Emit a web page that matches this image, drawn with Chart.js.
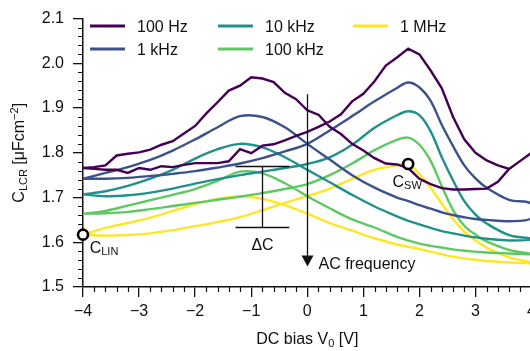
<!DOCTYPE html>
<html>
<head>
<meta charset="utf-8">
<script src="https://cdn.jsdelivr.net/npm/chart.js@4.4.0/dist/chart.umd.min.js"></script>
<style>
  html, body { margin: 0; padding: 0; overflow: hidden; background: #fff; }
  #wrap { width: 541px; height: 351px; }
</style>
</head>
<body>
<div id="wrap"><canvas id="cvChart" width="541" height="351"></canvas></div>
<script>
// bias grid (V) for the smooth curves, and a finer one for the noisy 100 Hz loop
const bias = [-4, -3.6, -3.2, -2.8, -2.4, -2.0, -1.6, -1.2, -0.8, -0.4, 0, 0.4, 0.8, 1.2, 1.6, 1.8, 2.0, 2.2, 2.4, 2.6, 2.8, 3.0, 3.2, 3.6, 4.0];
const biasFine = [-4, -3.8, -3.6, -3.4, -3.2, -3, -2.8, -2.6, -2.4, -2.2, -2, -1.8, -1.6, -1.4, -1.2, -1, -0.8, -0.6, -0.4, -0.2, 0,
  0.2, 0.4, 0.6, 0.8, 1, 1.2, 1.4, 1.6, 1.8, 2, 2.2, 2.4, 2.6, 2.8, 3, 3.2, 3.4, 3.6, 3.8, 4];

const labels = ["100 Hz", "1 kHz", "10 kHz", "100 kHz", "1 MHz"];
const colors = ["#440154", "#3b528b", "#21918c", "#5ec962", "#fde725"];

// C_LCR (uF/cm2), sweep up / sweep down
const c100HzUp = [1.766, 1.764, 1.762, 1.762, 1.755, 1.766, 1.762, 1.770, 1.768, 1.773, 1.777, 1.777, 1.777, 1.781, 1.808, 1.799, 1.816, 1.819, 1.828, 1.838, 1.847,
  1.858, 1.870, 1.886, 1.915, 1.932, 1.960, 1.995, 2.013, 2.033, 2.020, 1.984, 1.944, 1.880, 1.830, 1.800, 1.783, 1.772, 1.764, 1.782, 1.800];
const c100HzDown = [1.766, 1.768, 1.772, 1.794, 1.798, 1.801, 1.807, 1.818, 1.826, 1.843, 1.860, 1.888, 1.913, 1.939, 1.950, 1.969, 1.966, 1.958, 1.934, 1.920, 1.895,
  1.885, 1.858, 1.842, 1.820, 1.805, 1.788, 1.776, 1.774, 1.766, 1.742, 1.730, 1.721, 1.718, 1.718, 1.719, 1.720, 1.735, 1.764, 1.782, 1.800];

const c1kHzUp = [1.742, 1.742, 1.744, 1.748, 1.753, 1.759, 1.767, 1.776, 1.788, 1.803, 1.820, 1.850, 1.882, 1.915, 1.945, 1.957, 1.946, 1.916, 1.862, 1.815, 1.772, 1.743, 1.722, 1.695, 1.686];
const c1kHzDown = [1.742, 1.755, 1.768, 1.784, 1.805, 1.830, 1.857, 1.882, 1.880, 1.857, 1.820, 1.785, 1.750, 1.722, 1.700, 1.692, 1.683, 1.675, 1.667, 1.661, 1.656, 1.652, 1.650, 1.647, 1.654];

const c10kHzUp = [1.707, 1.703, 1.705, 1.711, 1.720, 1.731, 1.741, 1.750, 1.758, 1.766, 1.775, 1.790, 1.818, 1.856, 1.884, 1.893, 1.884, 1.848, 1.790, 1.738, 1.692, 1.662, 1.642, 1.616, 1.608];
const c10kHzDown = [1.707, 1.714, 1.726, 1.742, 1.762, 1.787, 1.808, 1.820, 1.812, 1.790, 1.762, 1.734, 1.706, 1.680, 1.658, 1.648, 1.640, 1.632, 1.625, 1.620, 1.615, 1.611, 1.608, 1.604, 1.606];

const c100kHzUp = [1.664, 1.665, 1.668, 1.674, 1.681, 1.688, 1.695, 1.702, 1.710, 1.719, 1.730, 1.750, 1.776, 1.806, 1.829, 1.834, 1.818, 1.782, 1.725, 1.672, 1.637, 1.617, 1.602, 1.583, 1.574];
const c100kHzDown = [1.664, 1.670, 1.682, 1.694, 1.706, 1.719, 1.737, 1.758, 1.754, 1.732, 1.703, 1.676, 1.651, 1.633, 1.612, 1.604, 1.597, 1.592, 1.588, 1.584, 1.581, 1.579, 1.577, 1.575, 1.573];

const c1MHzUp = [1.617, 1.615, 1.616, 1.620, 1.627, 1.636, 1.645, 1.656, 1.672, 1.688, 1.703, 1.720, 1.742, 1.762, 1.772, 1.775, 1.752, 1.722, 1.686, 1.652, 1.624, 1.604, 1.588, 1.566, 1.555];
const c1MHzDown = [1.617, 1.632, 1.643, 1.655, 1.670, 1.685, 1.697, 1.703, 1.697, 1.683, 1.664, 1.643, 1.626, 1.609, 1.595, 1.590, 1.585, 1.579, 1.573, 1.568, 1.564, 1.561, 1.558, 1.555, 1.553];

const xTickLabels = ["\u22124", "\u22123", "\u22122", "\u22121", "0", "1", "2", "3", "4"];
const yTickLabels = ["1.5", "1.6", "1.7", "1.8", "1.9", "2.0", "2.1"];

// annotation positions in data units
const arrowX = 0, arrowTop = 1.931, arrowTip = 1.546;
const dcX = -0.81, dcLeft = -1.28, dcRight = -0.32, dcTop = 1.770, dcBottom = 1.634;
const cLin = { x: bias[0], y: c1MHzUp[0] };
const cSw = { x: bias[15], y: c1MHzUp[15] };

const FONT = "'Liberation Sans', Arial, sans-serif";
Chart.defaults.font.family = FONT;
Chart.defaults.font.size = 16;
Chart.defaults.color = "#111";

function loop(xs, up, down) {
    var pts = [];
    for (var i = 0; i < xs.length; i++) pts.push({ x: xs[i], y: up[i] });
    for (var j = xs.length - 1; j >= 0; j--) pts.push({ x: xs[j], y: down[j] });
    return pts;
}

const loops = [
    loop(biasFine, c100HzUp, c100HzDown),
    loop(bias, c1kHzUp, c1kHzDown),
    loop(bias, c10kHzUp, c10kHzDown),
    loop(bias, c100kHzUp, c100kHzDown),
    loop(bias, c1MHzUp, c1MHzDown)
];

// mixed-size text run, baseline at (0,0), centred on x
function drawRuns(ctx, runs, cx, cy) {
    var total = 0;
    runs.forEach(function (r) { ctx.font = r[1] + "px " + FONT; total += ctx.measureText(r[0]).width; });
    var x = cx - total / 2;
    runs.forEach(function (r) {
        ctx.font = r[1] + "px " + FONT;
        ctx.fillText(r[0], x, cy + r[2]);
        x += ctx.measureText(r[0]).width;
    });
}

function ring(ctx, px, py) {
    ctx.beginPath();
    ctx.arc(px, py, 5, 0, Math.PI * 2);
    ctx.fillStyle = "#fff";
    ctx.fill();
    ctx.lineWidth = 2.6;
    ctx.strokeStyle = "#000";
    ctx.stroke();
}

const decor = {
    id: "decor",
    afterDatasetsDraw(chart) {
        const ctx = chart.ctx, ca = chart.chartArea, x = chart.scales.x, y = chart.scales.y;
        ctx.save();
        ctx.strokeStyle = "#111";
        ctx.fillStyle = "#111";

        // minor ticks
        ctx.lineWidth = 1.2;
        ctx.beginPath();
        for (var k = 0; k <= 40; k++) {
            if (k % 5 === 0) continue;
            var px = Math.round(x.getPixelForValue(-4 + k * 0.2)) + 0.5;
            ctx.moveTo(px, ca.bottom); ctx.lineTo(px, ca.bottom + 5);
        }
        for (var m = 0; m <= 30; m++) {
            if (m % 5 === 0) continue;
            var py = Math.round(y.getPixelForValue(1.5 + m * 0.02)) + 0.5;
            ctx.moveTo(ca.left, py); ctx.lineTo(ca.left - 5, py);
        }
        ctx.stroke();

        // AC frequency arrow
        var ax = Math.round(x.getPixelForValue(arrowX)) + 0.5;
        var at = y.getPixelForValue(arrowTop), ab = y.getPixelForValue(arrowTip);
        ctx.lineWidth = 1.3;
        ctx.beginPath(); ctx.moveTo(ax, at); ctx.lineTo(ax, ab - 8); ctx.stroke();
        ctx.beginPath(); ctx.moveTo(ax - 6, ab - 11); ctx.lineTo(ax + 6, ab - 11); ctx.lineTo(ax, ab); ctx.closePath(); ctx.fill();
        ctx.font = "16px " + FONT;
        ctx.textAlign = "left"; ctx.textBaseline = "alphabetic";
        ctx.fillText("AC frequency", ax + 11, ab + 3);

        // delta C bracket
        var dx = Math.round(x.getPixelForValue(dcX)) + 0.5;
        var dl = x.getPixelForValue(dcLeft), dr = x.getPixelForValue(dcRight);
        var dt = Math.round(y.getPixelForValue(dcTop)) + 0.5, db = Math.round(y.getPixelForValue(dcBottom)) + 0.5;
        ctx.beginPath();
        ctx.moveTo(dl, dt); ctx.lineTo(dr, dt);
        ctx.moveTo(dl, db); ctx.lineTo(dr, db);
        ctx.moveTo(dx, dt); ctx.lineTo(dx, db);
        ctx.stroke();
        ctx.textAlign = "center";
        ctx.fillText("\u0394C", dx, db + 22);

        // markers
        var lx = x.getPixelForValue(cLin.x), ly = y.getPixelForValue(cLin.y);
        var sx = x.getPixelForValue(cSw.x), sy = y.getPixelForValue(cSw.y);
        ring(ctx, lx, ly);
        ring(ctx, sx, sy);
        ctx.fillStyle = "#111";
        ctx.textAlign = "left";
        drawRuns(ctx, [["C", 16, 0], ["LIN", 11, 2]], lx + 21, ly + 18);
        drawRuns(ctx, [["C", 16, 0], ["SW", 11, 2]], sx - 1, sy + 23);
        ctx.restore();
    },
    afterDraw(chart) {
        const ctx = chart.ctx, ca = chart.chartArea;
        ctx.save();
        ctx.fillStyle = "#111";
        ctx.textAlign = "left";
        ctx.textBaseline = "alphabetic";

        // legend, filled column by column
        var colX = [90, 218, 353], rowY = [26, 49];
        chart.data.datasets.forEach(function (ds, i) {
            var cx = colX[Math.floor(i / 2)], cy = rowY[i % 2];
            ctx.strokeStyle = ds.borderColor;
            ctx.lineWidth = 3;
            ctx.beginPath(); ctx.moveTo(cx, cy); ctx.lineTo(cx + 35, cy); ctx.stroke();
            ctx.font = "16px " + FONT;
            ctx.fillStyle = "#111";
            ctx.fillText(ds.label, cx + 47, cy + 6);
        });

        // axis titles
        ctx.fillStyle = "#111";
        drawRuns(ctx, [["DC bias V", 16, 0], ["0", 11, 3], [" [V]", 16, 0]], (ca.left + ca.right) / 2, 344);
        ctx.translate(24, (ca.top + ca.bottom) / 2);
        ctx.rotate(-Math.PI / 2);
        drawRuns(ctx, [["C", 16, 0], ["LCR", 11, 3], [" [\u03bcFcm", 16, 0], ["\u22122", 11, -6], ["]", 16, 0]], 0, 0);
        ctx.restore();
    }
};

new Chart("cvChart", {
    type: "scatter",
    data: {
        datasets: loops.map(function (pts, i) {
            return {
                label: labels[i],
                data: pts,
                showLine: true,
                borderColor: colors[i],
                borderWidth: 2.4,
                pointRadius: 0,
                tension: i === 0 ? 0 : 0.35
            };
        })
    },
    options: {
        responsive: false,
        animation: false,
        layout: { padding: { top: 11, left: 0, right: 0, bottom: 0 } },
        plugins: { legend: { display: false }, tooltip: { enabled: false } },
        scales: {
            x: {
                type: "linear", min: -4, max: 4,
                ticks: { stepSize: 1, padding: 5, maxRotation: 0, color: "#111",
                    callback: function (v, i) { return xTickLabels[i]; } },
                grid: { drawOnChartArea: false, tickLength: 10, color: "#111", lineWidth: 1.3 },
                border: { color: "#111", width: 1.5 },
                afterFit: function (s) { s.height = 64; }
            },
            y: {
                min: 1.5, max: 2.1,
                ticks: { stepSize: 0.1, padding: 9, color: "#111",
                    callback: function (v, i) { return yTickLabels[i]; } },
                grid: { drawOnChartArea: false, tickLength: 10, color: "#111", lineWidth: 1.3 },
                border: { color: "#111", width: 1.5 },
                afterFit: function (s) { s.width = 83; }
            }
        }
    },
    plugins: [decor]
});
</script>
</body>
</html>
